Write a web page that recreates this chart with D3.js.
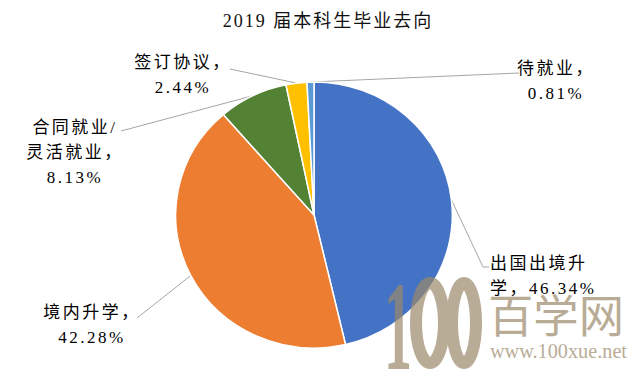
<!DOCTYPE html>
<html>
<head>
<meta charset="utf-8">
<script src="https://cdn.jsdelivr.net/npm/d3@7"></script>
<style>
  html, body { margin: 0; padding: 0; background: #fff; }
  svg { display: block; }
</style>
</head>
<body>
<div id="chart"></div>
<script>
const title = '2019 届本科生毕业去向';
const categories = ['出国出境升学', '境内升学', '合同就业/灵活就业', '签订协议', '待就业'];
const shares = [46.34, 42.28, 8.13, 2.44, 0.81];
const colors = ['#4472C4', '#ED7D31', '#548235', '#FFC000', '#5B9BD5'];

// where each label sits and where its leader line ends (layout only)
const labelLayout = [
  { x: 490, y: 269, anchor: 'start', breaks: [5], leader: [[483, 267], [489, 267]] },
  { x: 92, y: 318, anchor: 'middle', breaks: [5], leader: [[137, 318]] },
  { x: 75, y: 133, anchor: 'middle', breaks: [5, 10], leader: [[121, 131]] },
  { x: 183, y: 68, anchor: 'middle', breaks: [5], leader: [[230, 69]] },
  { x: 556, y: 74, anchor: 'middle', breaks: [4], leader: [[519, 73]] },
];

const width = 640;
const height = 377;
const cx = 314;
const cy = 215;
const radius = 133;
const stretchX = 1.04; // source picture is a bit wider than tall

const svg = d3.select('#chart')
  .append('svg')
    .attr('width', width)
    .attr('height', height)
    .attr('viewBox', `0 0 ${width} ${height}`);

svg.append('text')
  .attr('x', 328)
  .attr('y', 27)
  .attr('text-anchor', 'middle')
  .attr('font-family', '"Liberation Serif", "Noto Sans CJK SC", serif')
  .attr('font-size', 18)
  .attr('letter-spacing', 2)
  .attr('fill', '#111')
  .text(title);

const data = categories.map((name, i) => ({ name, value: shares[i], color: colors[i] }));

const pie = d3.pie()
  .sort(null)
  .value(d => d.value);
const arcs = pie(data);

const arc = d3.arc()
  .innerRadius(0)
  .outerRadius(radius);
const edge = d3.arc()
  .innerRadius(radius)
  .outerRadius(radius);

// leader lines go under the slices
const leaders = svg.append('g').attr('class', 'leaders');

const slices = svg.append('g')
  .attr('transform', `translate(${cx},${cy}) scale(${stretchX},1)`);

slices.selectAll('path')
  .data(arcs)
  .enter()
  .append('path')
    .attr('d', arc)
    .attr('fill', d => d.data.color)
    .attr('stroke', '#fff')
    .attr('stroke-width', 1.5)
    .attr('vector-effect', 'non-scaling-stroke');

const line = d3.line();
arcs.forEach((d, i) => {
  const [ex, ey] = edge.centroid(d);
  const pts = [[cx + ex * stretchX, cy + ey]].concat(labelLayout[i].leader);
  leaders.append('path')
    .attr('d', line(pts))
    .attr('fill', 'none')
    .attr('stroke', '#a6a6a6')
    .attr('stroke-width', 1);
});

// labels
const labels = svg.append('g')
  .attr('font-family', '"Liberation Serif", "Noto Sans CJK SC", serif')
  .attr('font-size', 17)
  .attr('letter-spacing', 2.5)
  .attr('fill', '#000');

arcs.forEach((d, i) => {
  const lay = labelLayout[i];
  const full = `${d.data.name}，${d.data.value.toFixed(2)}%`;
  const chars = Array.from(full);
  const cuts = [0].concat(lay.breaks, [chars.length]);
  const lines = [];
  for (let k = 0; k < cuts.length - 1; k++) {
    lines.push(chars.slice(cuts[k], cuts[k + 1]).join(''));
  }
  const t = labels.append('text')
    .attr('text-anchor', lay.anchor);
  lines.forEach((s, k) => {
    t.append('tspan')
      .attr('x', lay.x)
      .attr('y', lay.y + k * 25)
      .text(s);
  });
});

// site watermark over the chart
const mark = svg.append('g')
  .attr('opacity', 0.7);
mark.append('text')
  .attr('x', 384)
  .attr('y', 369)
  .attr('fill', '#9c8a6a')
  .attr('font-family', '"Liberation Serif", serif')
  .attr('font-weight', 'bold')
  .attr('font-size', 126)
  .attr('textLength', 28)
  .attr('lengthAdjust', 'spacingAndGlyphs')
  .text('1');
mark.selectAll('ellipse')
  .data([[430, 14], [464, 12]])
  .enter()
  .append('ellipse')
    .attr('cx', d => d[0])
    .attr('cy', 323)
    .attr('rx', d => d[1])
    .attr('ry', 40)
    .attr('fill', 'none')
    .attr('stroke', '#9c8a6a')
    .attr('stroke-width', 12);
mark.append('text')
  .attr('x', 488)
  .attr('y', 333)
  .attr('fill', '#9c8a6a')
  .attr('font-family', '"Noto Sans CJK SC", sans-serif')
  .attr('font-size', 45)
  .attr('textLength', 136)
  .attr('lengthAdjust', 'spacingAndGlyphs')
  .text('百学网');
mark.append('text')
  .attr('x', 490)
  .attr('y', 358)
  .attr('fill', '#9c8a6a')
  .attr('font-family', '"Liberation Serif", serif')
  .attr('font-size', 21)
  .attr('textLength', 137)
  .attr('lengthAdjust', 'spacingAndGlyphs')
  .text('www.100xue.net');
</script>
</body>
</html>
